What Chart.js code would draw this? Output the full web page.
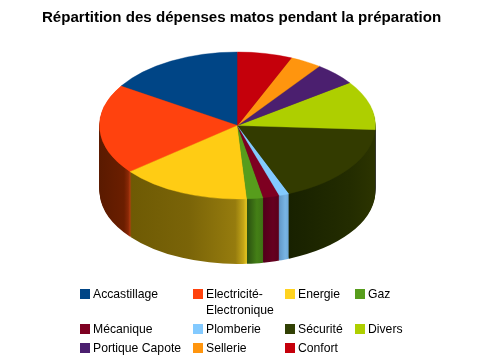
<!DOCTYPE html>
<html lang="fr">
<head>
  <meta charset="UTF-8" />
  <title>Répartition des dépenses matos</title>
  <script src="https://cdn.jsdelivr.net/npm/chart.js"></script>
  <style>
    body { margin: 0; background: #fff; font-family: "Liberation Sans", Arial, sans-serif; }
    #wrap { position: relative; width: 480px; height: 360px; overflow: hidden; }
    #legend {
      position: absolute; left: 79px; top: 286px;
      display: grid; grid-template-columns: 113px 92px 70px 90px; row-gap: 3px;
      font-size: 12.2px; line-height: 16px; color: #000;
    }
    .item { display: flex; align-items: flex-start; }
    .box { flex: none; width: 10px; height: 10px; margin: 3px 3px 0 1px; }
  </style>
</head>
<body>
  <div id="wrap">
    <canvas id="chart" width="480" height="360"></canvas>
    <div id="legend"></div>
  </div>

  <script>
    const chartTitle = "Répartition des dépenses matos pendant la préparation";
    const categories = ["Accastillage", "Electricité-Electronique", "Energie", "Gaz", "Mécanique", "Plomberie", "Sécurité", "Divers", "Portique Capote", "Sellerie", "Confort"];
    const shares = [16.0, 19.8, 15.3, 1.9, 1.9, 1.2, 18.0, 10.8, 5.0, 3.7, 6.4];

    const topColors = ["#004586", "#ff420e", "#ffcc14", "#579d1c", "#7e0021", "#83caff", "#333b00", "#aecf00", "#4b1f6f", "#ff950e", "#c5000b"];
    const legendColors = ["#004586", "#ff420e", "#ffd320", "#579d1c", "#7e0021", "#83caff", "#314004", "#aecf00", "#4b1f6f", "#ff950e", "#c5000b"];
    // wall shading left to right, [offset, colour]
    const wallStops = {
      "Electricité-Electronique": [[0, "#5a1a00"], [0.8, "#6b1e00"], [0.94, "#8a2806"], [1, "#b03a10"]],
      "Energie": [[0, "#6e5a04"], [0.5, "#7a6408"], [0.9, "#967c0e"], [0.97, "#c4a618"], [1, "#e8c820"]],
      "Gaz": [[0, "#2a5010"], [0.6, "#447f16"], [1, "#3e7414"]],
      "Mécanique": [[0, "#52001a"], [0.6, "#660020"], [1, "#5a001a"]],
      "Plomberie": [[0, "#6298c8"], [0.6, "#78b4e4"], [1, "#6ea8d8"]],
      "Sécurité": [[0, "#182100"], [0.7, "#232c00"], [1, "#2c3400"]]
    };

    const pieCx = 237.5, pieCy = 125.5, pieRadius = 138, squash = 73.5 / 138, pieDepth = 65;

    function placePie(ctx, arc) {
      ctx.translate(pieCx, pieCy);
      ctx.scale(-1, squash); // mirrored so the slices run anticlockwise like the original
      ctx.translate(-arc.x, -arc.y);
    }

    function wallGradient(ctx, arc, name) {
      const stops = wallStops[name];
      if (!stops) return "#333";
      let lo = 1, hi = -1;
      for (let i = 0; i <= 40; i++) {
        const a = arc.startAngle + (arc.endAngle - arc.startAngle) * i / 40;
        if (Math.sin(a) < 0) continue;
        lo = Math.min(lo, Math.cos(a));
        hi = Math.max(hi, Math.cos(a));
      }
      // chart x grows to the screen's left because of the mirror
      const g = ctx.createLinearGradient(arc.x + hi * pieRadius, 0, arc.x + lo * pieRadius, 0);
      stops.forEach(s => g.addColorStop(s[0], s[1]));
      return g;
    }

    const pie3d = {
      id: "pie3d",
      beforeDatasetDraw(chart, args) {
        const ctx = chart.ctx;
        const arcs = args.meta.data;
        const walls = arcs.map((arc, i) => {
          const paint = wallGradient(ctx, arc, categories[i]);
          const wall = Object.create(arc);
          wall.options = { backgroundColor: paint, borderColor: paint, borderWidth: 0, borderAlign: "center", borderRadius: 0, offset: 0, spacing: 0, circular: true, selfJoin: false, borderDash: [], borderDashOffset: 0 };
          return wall;
        });
        for (let d = pieDepth; d > 0; d--) {
          ctx.save();
          ctx.translate(0, d);
          placePie(ctx, arcs[0]);
          walls.forEach(w => w.draw(ctx));
          ctx.restore();
        }
        ctx.save();
        placePie(ctx, arcs[0]);
      },
      afterDatasetDraw(chart) {
        chart.ctx.restore();
      }
    };

    new Chart(document.getElementById("chart"), {
      type: "pie",
      data: {
        labels: categories,
        datasets: [{
          data: shares,
          backgroundColor: topColors,
          borderColor: topColors,
          borderWidth: 0.5,
          clip: false
        }]
      },
      options: {
        responsive: false,
        animation: false,
        events: [],
        radius: pieRadius,
        layout: { padding: { left: 3 } },
        plugins: {
          legend: { display: false },
          tooltip: { enabled: false },
          title: {
            display: true,
            text: chartTitle,
            color: "#000",
            font: { family: "Liberation Sans", size: 15.1, weight: "bold" },
            padding: { top: 9, bottom: 10 }
          }
        }
      },
      plugins: [pie3d]
    });

    const legend = document.getElementById("legend");
    categories.forEach((name, i) => {
      const item = document.createElement("div");
      item.className = "item";
      const box = document.createElement("span");
      box.className = "box";
      box.style.background = legendColors[i];
      const label = document.createElement("span");
      label.textContent = name;
      item.append(box, label);
      legend.append(item);
    });
  </script>
</body>
</html>
